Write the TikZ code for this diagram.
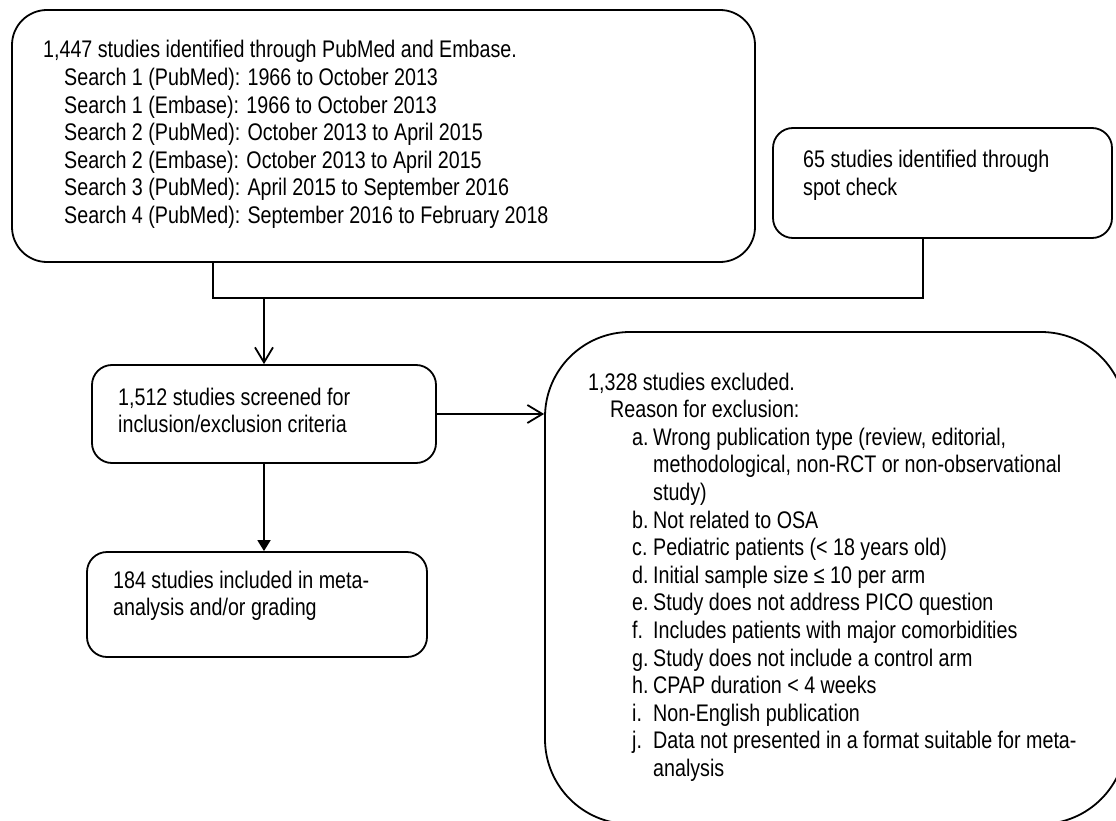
\documentclass[tikz,border=0pt]{standalone}
\usepackage{fontspec}
\setmainfont{Liberation Sans}[FakeStretch=0.82]
\usetikzlibrary{arrows.meta}
\newcommand\itm[1]{\hspace*{44pt}\makebox[21pt][l]{#1}}
\newcommand\cont{\hspace*{65pt}}
\begin{document}
\begin{tikzpicture}[x=1pt,y=-1pt,
  box/.style={draw=black, line width=1.8pt, rectangle, inner sep=0pt},
  txt/.style={anchor=base west, inner sep=0pt, font=\fontsize{24pt}{27.6pt}\selectfont},
  wire/.style={draw=black, line width=1.8pt},
  openarrow/.style={wire, -{Straight Barb[length=15pt,width=18pt]}},
  solidarrow/.style={wire, -{Triangle[length=11pt,width=13pt]}}]
\useasboundingbox (0,0) rectangle (1116,821);
\clip (0,0) rectangle (1116,821);
\fill[white] (0,0) rectangle (1116,821);

% boxes
\node[box, rounded corners=35pt, minimum width=743pt, minimum height=252pt] (src) at (383.5,136) {};
\node[box, rounded corners=20pt, minimum width=339pt, minimum height=110pt] (spot) at (942.5,183) {};
\node[box, rounded corners=20pt, minimum width=344pt, minimum height=98pt] (screen) at (264,414) {};
\node[box, rounded corners=20pt, minimum width=340pt, minimum height=105pt] (incl) at (257,604.5) {};
\node[box, rounded corners=85pt, minimum width=581pt, minimum height=492pt] (excl) at (835.5,578) {};

% texts
\node[txt] (srctext) at (43,58) {\begin{tabular}[t]{@{}l@{}}
1,447 studies identified through PubMed and Embase.\\
\hspace*{21pt}Search 1 (PubMed): 1966 to October 2013\\
\hspace*{21pt}Search 1 (Embase): 1966 to October 2013\\
\hspace*{21pt}Search 2 (PubMed): October 2013 to April 2015\\
\hspace*{21pt}Search 2 (Embase): October 2013 to April 2015\\
\hspace*{21pt}Search 3 (PubMed): April 2015 to September 2016\\
\hspace*{21pt}Search 4 (PubMed): September 2016 to February 2018
\end{tabular}};
\node[txt] (spottext) at (803,168) {\begin{tabular}[t]{@{}l@{}}
65 studies identified through\\ spot check\end{tabular}};
\node[txt] (screentext) at (118,405) {\begin{tabular}[t]{@{}l@{}}
1,512 studies screened for\\ inclusion/exclusion criteria\end{tabular}};
\node[txt] (incltext) at (113,588) {\begin{tabular}[t]{@{}l@{}}
184 studies included in meta-\\ analysis and/or grading\end{tabular}};
\node[txt] (excltext) at (588,390) {\begin{tabular}[t]{@{}l@{}}
1,328 studies excluded.\\
\hspace*{22pt}Reason for exclusion:\\
\itm{a.}Wrong publication type (review, editorial,\\
\cont methodological, non-RCT or non-observational\\
\cont study)\\
\itm{b.}Not related to OSA\\
\itm{c.}Pediatric patients (< 18 years old)\\
\itm{d.}Initial sample size ≤ 10 per arm\\
\itm{e.}Study does not address PICO question\\
\itm{f.}Includes patients with major comorbidities\\
\itm{g.}Study does not include a control arm\\
\itm{h.}CPAP duration < 4 weeks\\
\itm{i.}Non-English publication\\
\itm{j.}Data not presented in a format suitable for meta-\\
\cont analysis
\end{tabular}};

% connectors
\coordinate (jl) at (213,298);
\coordinate (jr) at (923,298);
\draw[wire] (jl |- src.south) -- (jl) -- (jr) -- (jr |- spot.south);
\draw[openarrow] (screen.north |- jl) -- (screen.north);
\draw[openarrow] (screen.east) -- (screen.east -| excl.west);
\draw[solidarrow] (screen.south) -- (screen.south |- incl.north);
\end{tikzpicture}
\end{document}
